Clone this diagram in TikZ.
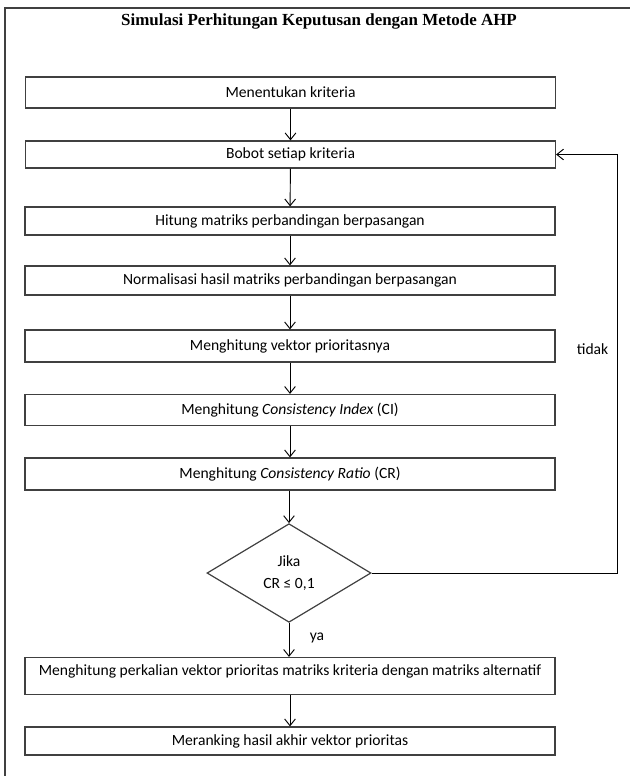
\documentclass[tikz,border=0pt]{standalone}
\usepackage{fontspec}
\setmainfont{Carlito}
\newfontfamily\judulfont{Liberation Serif}
\usetikzlibrary{shapes.geometric,arrows.meta}
\begin{document}
\begin{tikzpicture}[x=0.75pt,y=-0.75pt, every node/.style={font=\fontsize{11.7}{14}\selectfont}]
  \tikzstyle{proses}=[draw=black!75,line width=0.9pt,minimum width=397.5pt,minimum height=22pt,inner sep=2pt]
  \tikzstyle{keputusan}=[draw=black!75,line width=0.9pt,diamond,minimum width=123pt,minimum height=74pt,inner sep=0pt,align=center]
  \tikzstyle{panah}=[-{Straight Barb[length=5pt,width=8pt]},line width=0.7pt]
  \useasboundingbox (0,0) rectangle (630,776);
  \draw[black!75,line width=0.9pt] (5,776) -- (5,8) -- (630,8);
  \node[font=\judulfont\bfseries\fontsize{12.7}{15}\selectfont] (judul) at (319,21) {Simulasi Perhitungan Keputusan dengan Metode AHP};
  \node[proses,minimum height=23.25pt] (krit) at (290.5,92.5) {Menentukan kriteria};
  \node[proses,minimum height=20.25pt] (bobot) at (290.5,154.5) {Bobot setiap kriteria};
  \node[proses,minimum height=21pt] (hitung) at (290,221) {Hitung matriks perbandingan berpasangan};
  \node[proses,minimum height=21.75pt] (norm) at (290,280.5) {Normalisasi hasil matriks perbandingan berpasangan};
  \node[proses,minimum height=24pt] (vektor) at (290,346) {Menghitung vektor prioritasnya};
  \node[proses,minimum height=23.25pt] (ci) at (290,410) {Menghitung \textit{Consistency Index} (CI)};
  \node[proses,minimum height=24pt] (cr) at (290,474) {Menghitung \textit{Consistency Ratio} (CR)};
  \node[keputusan] (cek) at (289,573) {Jika\\[2pt]CR ≤ 0,1};
  \node[proses,minimum height=27.75pt,text depth=9pt] (kali) at (290,676) {Menghitung perkalian vektor prioritas matriks kriteria dengan matriks alternatif};
  \node[proses,minimum height=21pt] (rank) at (290,741) {Meranking hasil akhir vektor prioritas};
  \coordinate (balik) at (617,573);
  \draw[panah] (krit) -- (bobot);
  \draw[panah] (bobot) -- (hitung);
  \draw[panah] (hitung) -- (norm);
  \draw[panah] (norm) -- (vektor);
  \draw[panah] (vektor) -- (ci);
  \draw[panah] (ci) -- (cr);
  \draw[panah] (cr.south -| cek.north) -- (cek.north);
  \draw[panah] (cek.south) -- (cek.south |- kali.north) node[pos=0.45,right=12pt] (ya) {ya};
  \draw[panah] (kali) -- (rank);
  \draw[panah] (cek.east) -- (balik) |- (bobot.east);
  \node[left=3pt] (tidak) at (617,349) {tidak};
\end{tikzpicture}
\end{document}
